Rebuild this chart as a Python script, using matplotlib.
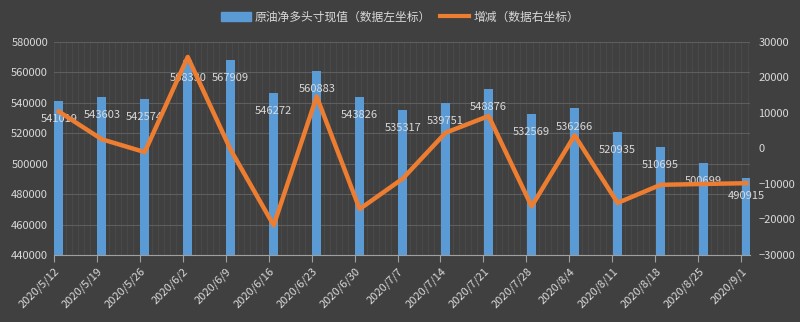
import numpy as np
import matplotlib
matplotlib.use('Agg')
import matplotlib.pyplot as plt
from matplotlib.patches import Patch
from matplotlib.lines import Line2D

plt.rcParams['font.family'] = ['Noto Sans CJK SC', 'DejaVu Sans']

# weekly data
dates = ['2020/5/12', '2020/5/19', '2020/5/26', '2020/6/2', '2020/6/9', '2020/6/16',
         '2020/6/23', '2020/6/30', '2020/7/7', '2020/7/14', '2020/7/21', '2020/7/28',
         '2020/8/4', '2020/8/11', '2020/8/18', '2020/8/25', '2020/9/1']
net_long = [541019, 543603, 542574, 568330, 567909, 546272, 560883, 543826, 535317,
            539751, 548876, 532569, 536266, 520935, 510695, 500699, 490915]
change = [10400, 2584, -1029, 25756, -421, -21637, 14611, -17057, -8509,
          4434, 9125, -16307, 3697, -15331, -10240, -9996, -9784]

bg = '#404040'
txt = '#d9d9d9'
blue = '#5b9bd5'
orange = '#ed7d31'

fig = plt.figure(figsize=(8, 3.22), dpi=100, facecolor=bg)
ax = fig.add_axes([0.067, 0.208, 0.8705, 0.662], facecolor=bg)
ax2 = ax.twinx()

x = np.arange(len(dates))
off = 0.12

# minor vertical grid (daily) and horizontal grid
for d in np.arange(0, 16.2, 1 / 7):
    ax.axvline(d, color='#4b4b4b', lw=0.6, zorder=0)
ax.set_yticks(np.arange(440000, 580001, 20000))
ax.grid(axis='y', color='#5e5e5e', lw=0.8, zorder=0)
ax.set_axisbelow(True)

ax.bar(x + off, net_long, width=0.22, color=blue, zorder=2)
ax.set_ylim(440000, 580000)
ax.set_xlim(0, 16.2)

for xi, v in zip(x, net_long):
    ax.annotate(str(v), (xi + off, v), xytext=(0, -13), textcoords='offset points',
                ha='center', va='center', color=txt, fontsize=8, zorder=5)

ax2.plot(x + off, change, color=orange, lw=3.2, zorder=3)
ax2.set_ylim(-30000, 30000)
ax2.set_yticks(np.arange(-30000, 30001, 10000))

ax.set_xticks(x)
ax.set_xticklabels(dates, rotation=45, ha='right', rotation_mode='anchor', color=txt, fontsize=8)
ax.tick_params(axis='x', colors='#a0a0a0', length=5, labelcolor=txt, pad=3)
ax.tick_params(axis='y', length=0, labelcolor=txt, labelsize=8, pad=4)
ax2.tick_params(axis='y', length=0, labelcolor=txt, labelsize=8, pad=6)

for a in (ax, ax2):
    for s in ('top', 'left', 'right'):
        a.spines[s].set_visible(False)
ax.spines['bottom'].set_color('#a0a0a0')
ax2.spines['bottom'].set_visible(False)

handles = [Patch(color=blue, label='原油净多头寸现值（数据左坐标）'),
           Line2D([], [], color=orange, lw=3, label='增减（数据右坐标）')]
fig.legend(handles=handles, loc='upper center', bbox_to_anchor=(0.5, 1.0), ncol=2,
           frameon=False, fontsize=8.5, labelcolor=txt, handlelength=2.5,
           handletextpad=0.3, columnspacing=0.8)

fig.savefig('out.png', dpi=100, facecolor=bg)
